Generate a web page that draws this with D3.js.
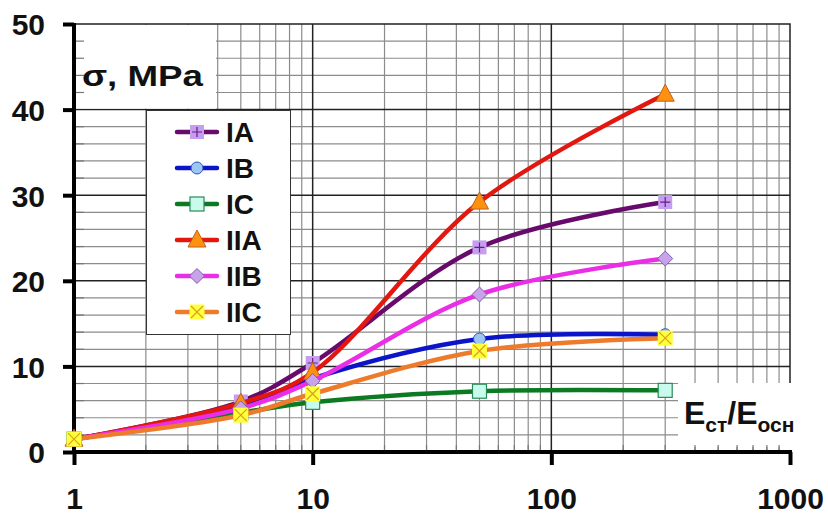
<!DOCTYPE html>
<html>
<head>
<meta charset="utf-8">
<script src="https://cdn.jsdelivr.net/npm/d3@7"></script>
<style>
  body { margin: 0; background: #fff; }
  svg { display: block; font-family: "Liberation Sans", Arial, sans-serif; font-weight: bold; }
</style>
</head>
<body>
<div id="chart"></div>
<script>
// x values (Ecт/Eосн ratio) shared by all series
const ratios = [1, 5, 10, 50, 300];

// sigma, MPa
const seriesIA  = [1.5, 5.9, 10.4, 23.9, 29.2];
const seriesIB  = [1.5, 5.3, 8.6, 13.2, 13.7];
const seriesIC  = [1.5, 4.6, 5.8, 7.1, 7.2];
const seriesIIA = [1.5, 5.7, 9.3, 29.2, 41.8];
const seriesIIB = [1.5, 5.1, 8.3, 18.4, 22.6];
const seriesIIC = [1.5, 4.3, 6.8, 11.8, 13.3];

const seriesNames = ["IA", "IB", "IC", "IIA", "IIB", "IIC"];
const seriesValues = [seriesIA, seriesIB, seriesIC, seriesIIA, seriesIIB, seriesIIC];

const xTicks = [1, 10, 100, 1000];
const yTicks = [0, 10, 20, 30, 40, 50];

/** look of each series */
const styles = {
  IA:  { line: "#680a6c", marker: "squarePlus" },
  IB:  { line: "#0a14c8", marker: "circle" },
  IC:  { line: "#0b7a22", marker: "square" },
  IIA: { line: "#e2170f", marker: "triangle" },
  IIB: { line: "#ea2ee6", marker: "diamond" },
  IIC: { line: "#ee7a2c", marker: "squareX" }
};

const width = 828, height = 518;
const plot = { left: 74, right: 790, top: 24, bottom: 452 };

const svg = d3.select("#chart").append("svg")
  .attr("width", width)
  .attr("height", height);

const x = d3.scaleLog().domain([1, 1000]).range([plot.left, plot.right]);
const y = d3.scaleLinear().domain([0, 50]).range([plot.bottom, plot.top]);

/** grid */
const minorX = [];
[1, 10, 100].forEach(function(dec) {
  for (let k = 2; k <= 9; k++) minorX.push(k * dec);
});
const minorY = d3.range(2, 50, 2).filter(d => d % 10);

const grid = svg.append("g").attr("id", "grid");
grid.selectAll("line.minor-x")
  .data(minorX)
  .enter().append("line")
  .attr("x1", d => x(d)).attr("x2", d => x(d))
  .attr("y1", plot.top).attr("y2", plot.bottom)
  .attr("stroke", "#8c8c8c").attr("stroke-width", 1.2);
grid.selectAll("line.minor-y")
  .data(minorY)
  .enter().append("line")
  .attr("x1", plot.left).attr("x2", plot.right)
  .attr("y1", d => y(d)).attr("y2", d => y(d))
  .attr("stroke", "#8c8c8c").attr("stroke-width", 1.2);
grid.selectAll("line.major-x")
  .data([10, 100])
  .enter().append("line")
  .attr("x1", d => x(d)).attr("x2", d => x(d))
  .attr("y1", plot.top).attr("y2", plot.bottom)
  .attr("stroke", "#222").attr("stroke-width", 1.5);
grid.selectAll("line.major-y")
  .data([10, 20, 30, 40])
  .enter().append("line")
  .attr("x1", plot.left).attr("x2", plot.right)
  .attr("y1", d => y(d)).attr("y2", d => y(d))
  .attr("stroke", "#222").attr("stroke-width", 1.5);

/** white label boxes laid over the grid */
svg.append("rect")
  .attr("x", plot.left).attr("y", y(50) + 1)
  .attr("width", 142).attr("height", y(40) - y(50) - 2)
  .attr("fill", "#fff");
svg.append("rect")
  .attr("x", 678).attr("y", 383)
  .attr("width", 130).attr("height", 64)
  .attr("fill", "#fff");

// plot border top / right
svg.append("path")
  .attr("d", "M" + plot.left + "," + plot.top + "H" + plot.right + "V383")
  .attr("fill", "none").attr("stroke", "#222").attr("stroke-width", 1.5);

/** minor ticks on the inside of the axes */
svg.selectAll("line.tick-mx")
  .data(minorX)
  .enter().append("line")
  .attr("x1", d => x(d)).attr("x2", d => x(d))
  .attr("y1", plot.bottom - 7).attr("y2", plot.bottom)
  .attr("stroke", "#777").attr("stroke-width", 1.2);
svg.selectAll("line.tick-my")
  .data(minorY)
  .enter().append("line")
  .attr("x1", plot.left).attr("x2", plot.left + 10)
  .attr("y1", d => y(d)).attr("y2", d => y(d))
  .attr("stroke", "#777").attr("stroke-width", 1.2);

/** axes */
const xAxis = d3.axisBottom(x).tickValues(xTicks).tickSize(13).tickFormat(d3.format("d"));
const yAxis = d3.axisLeft(y).tickValues(yTicks).tickSize(11);

const gx = svg.append("g").attr("transform", "translate(0," + plot.bottom + ")").call(xAxis);
const gy = svg.append("g").attr("transform", "translate(" + plot.left + ",0)").call(yAxis);

[gx, gy].forEach(function(g) {
  g.select(".domain").attr("stroke", "#000").attr("stroke-width", 4);
  g.selectAll(".tick line").attr("stroke", "#000").attr("stroke-width", 4);
  g.selectAll(".tick text")
    .attr("fill", "#111")
    .style("font-size", "30px")
    .style("font-family", "'Liberation Sans', Arial, sans-serif")
    .style("font-weight", "bold");
});
gx.select(".domain").attr("d", "M" + (plot.left - 2) + ",0H" + (plot.right + 2));
gy.select(".domain").attr("d", "M0," + (plot.top - 1) + "V" + (plot.bottom + 2));
gx.selectAll(".tick text").attr("y", 57).attr("dy", 0);
gy.selectAll(".tick text").attr("x", -29).attr("dy", "0.36em");

/** series */
const line = d3.line()
  .x(d => x(d[0]))
  .y(d => y(d[1]))
  .curve(d3.curveCatmullRom.alpha(0.5));

function drawMarker(g, type, color) {
  if (type === "squarePlus") {
    g.append("rect").attr("x", -7).attr("y", -7).attr("width", 14).attr("height", 14)
      .attr("fill", "#c59ef0");
    g.append("path").attr("d", "M-5,0H5M0,-5V5").attr("stroke", "#6a1a8a").attr("stroke-width", 1.2);
  } else if (type === "circle") {
    g.append("circle").attr("r", 6).attr("fill", "#9cc6f2").attr("stroke", "#3050c0").attr("stroke-width", 1);
  } else if (type === "square") {
    g.append("rect").attr("x", -7).attr("y", -7).attr("width", 14).attr("height", 14)
      .attr("fill", "#c8fbec").attr("stroke", "#2a8a5a").attr("stroke-width", 1.2);
  } else if (type === "triangle") {
    g.append("path").attr("d", "M0,-10L9,7H-9Z")
      .attr("fill", "#ff9111").attr("stroke", "#c0601a").attr("stroke-width", 1);
  } else if (type === "diamond") {
    g.append("path").attr("d", "M0,-7.5L7.5,0L0,7.5L-7.5,0Z")
      .attr("fill", "#c9a2ec").attr("stroke", "#8060a8").attr("stroke-width", 1);
  } else if (type === "squareX") {
    g.append("rect").attr("x", -7.5).attr("y", -7.5).attr("width", 15).attr("height", 15)
      .attr("fill", "#ffff3a");
    g.append("path").attr("d", "M-6,-6L6,6M6,-6L-6,6").attr("stroke", "#d8a020").attr("stroke-width", 1.2);
  }
}

const seriesGroup = svg.append("g").attr("id", "series");
seriesNames.forEach(function(name, i) {
  const pts = ratios.map((r, j) => [r, seriesValues[i][j]]);
  const st = styles[name];
  const g = seriesGroup.append("g").attr("class", "series-" + name);
  g.append("path")
    .datum(pts)
    .attr("d", line)
    .attr("fill", "none")
    .attr("stroke", st.line)
    .attr("stroke-width", 4.5)
    .attr("stroke-linecap", "round");
  g.selectAll("g.marker")
    .data(pts)
    .enter().append("g")
    .attr("transform", d => "translate(" + x(d[0]) + "," + y(d[1]) + ")")
    .each(function() { drawMarker(d3.select(this), st.marker, st.line); });
});

/** legend */
const legend = svg.append("g").attr("id", "legend");
legend.append("rect")
  .attr("x", 146.5).attr("y", 110.5)
  .attr("width", 144).attr("height", 224)
  .attr("fill", "#fff").attr("stroke", "#333").attr("stroke-width", 1);
seriesNames.forEach(function(name, i) {
  const cy = 132 + i * 36;
  const st = styles[name];
  legend.append("line")
    .attr("x1", 177).attr("x2", 217).attr("y1", cy).attr("y2", cy)
    .attr("stroke", st.line).attr("stroke-width", 4.5).attr("stroke-linecap", "round");
  drawMarker(legend.append("g").attr("transform", "translate(197," + cy + ")"), st.marker, st.line);
  legend.append("text")
    .attr("x", 226).attr("y", cy + 10)
    .attr("fill", "#111")
    .style("font-size", "28px")
    .text(name);
});

/** axis titles */
svg.append("text")
  .attr("x", 82).attr("y", 86)
  .attr("fill", "#111")
  .attr("textLength", 121).attr("lengthAdjust", "spacingAndGlyphs")
  .style("font-size", "30px")
  .text("σ, MPa");

const xt = svg.append("text")
  .attr("x", 684).attr("y", 424)
  .attr("fill", "#111")
  .style("font-size", "32px");
xt.append("tspan").text("E");
xt.append("tspan").attr("dy", 8).style("font-size", "21px").text("ст");
xt.append("tspan").attr("dy", -8).text("/E");
xt.append("tspan").attr("dy", 8).style("font-size", "21px").text("осн");
</script>
</body>
</html>
